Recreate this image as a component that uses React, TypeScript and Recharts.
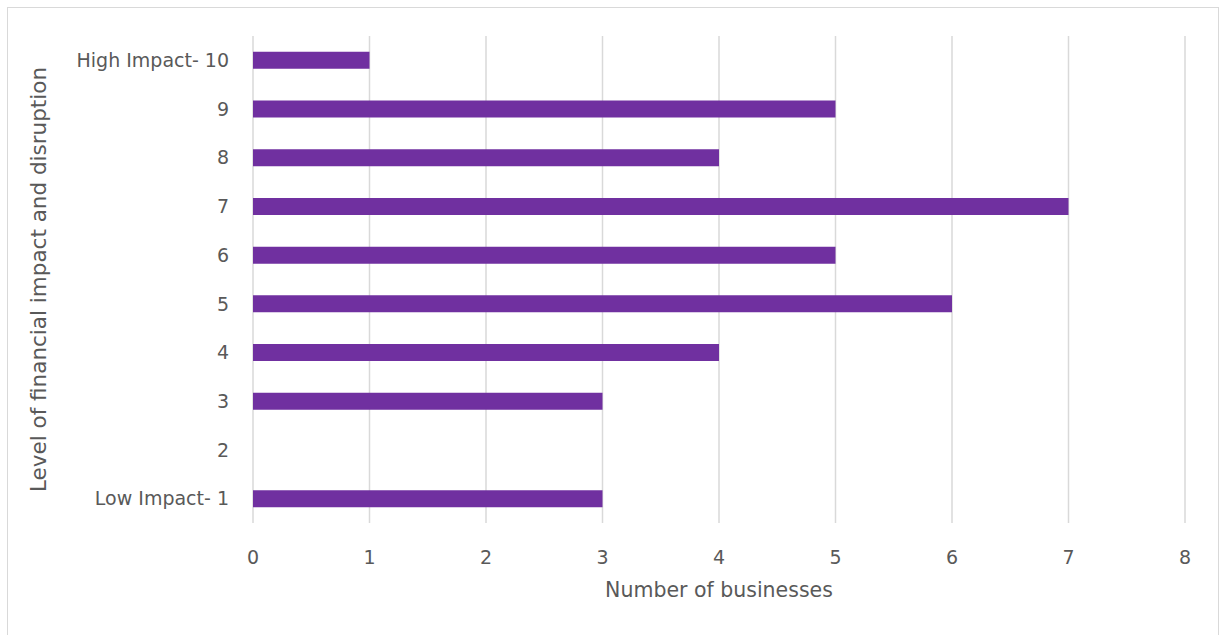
import { BarChart, Bar, XAxis, YAxis, CartesianGrid, Label } from "recharts";

const levels = ["High Impact- 10", "9", "8", "7", "6", "5", "4", "3", "2", "Low Impact- 1"];
const businesses = [1, 5, 4, 7, 5, 6, 4, 3, 0, 3];
const xTicks = [0, 1, 2, 3, 4, 5, 6, 7, 8];

const data = levels.map((level, i) => ({ level, count: businesses[i] }));

const textColor = "#595959";
const font = "'DejaVu Sans', sans-serif";

export default function App() {
  return (
    <div
      style={{
        position: "absolute",
        left: 7,
        top: 7,
        width: 1210,
        height: 640,
        border: "1px solid #d9d9d9",
        background: "#fff",
        fontFamily: font,
      }}
    >
      <BarChart
        width={1210}
        height={627}
        data={data}
        layout="vertical"
        margin={{ top: 28, right: 33, left: 0, bottom: 0 }}
        barCategoryGap="32.5%"
      >
        <CartesianGrid vertical horizontal={false} stroke="#d9d9d9" strokeWidth={1.5} />
        <XAxis
          type="number"
          domain={[0, 8]}
          ticks={xTicks}
          axisLine={false}
          tickLine={false}
          tickMargin={22}
          tick={{ fontSize: 19, fill: textColor, fontFamily: font }}
          height={112}
        >
          <Label
            value="Number of businesses"
            position="insideTop"
            offset={59}
            style={{ fontSize: 20.5, fill: textColor, fontFamily: font }}
          />
        </XAxis>
        <YAxis
          type="category"
          dataKey="level"
          width={245}
          axisLine={false}
          tickLine={false}
          tickMargin={18}
          tick={{ fontSize: 19, fill: textColor, fontFamily: font }}
        >
          <Label
            value="Level of financial impact and disruption"
            angle={-90}
            position="insideLeft"
            offset={24}
            dx={6}
            style={{ fontSize: 21.5, fill: textColor, fontFamily: font, textAnchor: "middle" }}
          />
        </YAxis>
        <Bar dataKey="count" fill="#7030a0" isAnimationActive={false} />
      </BarChart>
    </div>
  );
}
